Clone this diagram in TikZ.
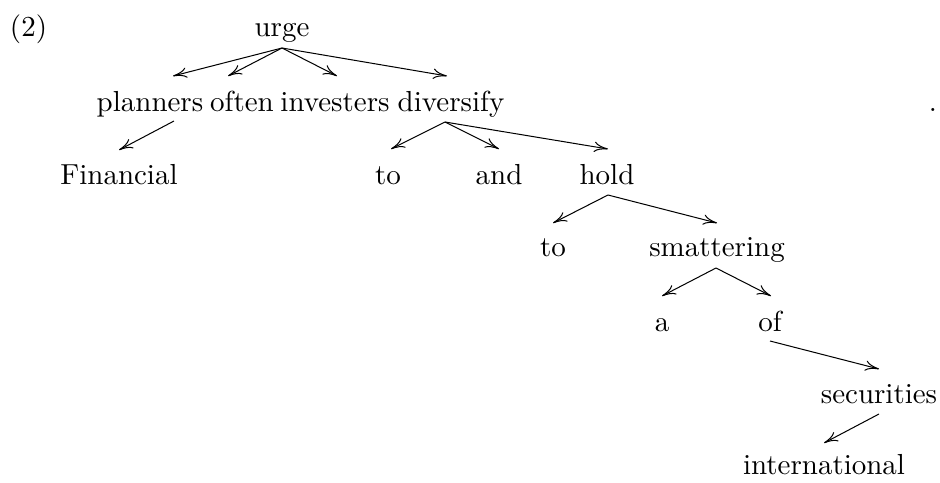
\documentclass[tikz,border=0pt]{standalone}
\usetikzlibrary{arrows.meta}
\begin{document}
\begin{tikzpicture}[x=0.345pt,y=-0.345pt,
  word/.style={anchor=base,inner sep=0pt,outer sep=0pt,font=\fontsize{10}{12}\selectfont},
  dep/.style={-{To[length=4.8pt,width=3.6pt]},line width=0.35pt}]
\useasboundingbox (0,0) rectangle (940,482);
\node[word,anchor=base west] (num) at (10,36) {(2)};
\node[word] (urge) at (282,36) {urge};
\node[word] (planners) at (150,111) {planners};
\node[word] (often) at (242,111) {often};
\node[word] (investers) at (335,111) {investers};
\node[word] (diversify) at (451,111) {diversify};
\node[word] (dot) at (933,111) {.};
\node[word] (financial) at (119,184) {Financial};
\node[word] (to1) at (388,184) {to};
\node[word] (and) at (499,184) {and};
\node[word] (hold) at (607,184) {hold};
\node[word] (to2) at (553,256) {to};
\node[word] (smattering) at (717,256) {smattering};
\node[word] (a) at (662,331) {a};
\node[word] (of) at (770,331) {of};
\node[word] (securities) at (879,403) {securities};
\node[word] (international) at (824,474) {international};

\draw[dep] ([shift={(0,12)}]urge.base) -- ([shift={(23,-35)}]planners.base);
\draw[dep] ([shift={(0,12)}]urge.base) -- ([shift={(-14,-35)}]often.base);
\draw[dep] ([shift={(0,12)}]urge.base) -- ([shift={(2,-35)}]investers.base);
\draw[dep] ([shift={(0,12)}]urge.base) -- ([shift={(-4,-35)}]diversify.base);
\draw[dep] ([shift={(24,10)}]planners.base) -- ([shift={(0,-34)}]financial.base);
\draw[dep] ([shift={(-6,11)}]diversify.base) -- ([shift={(3,-35)}]to1.base);
\draw[dep] ([shift={(-6,11)}]diversify.base) -- ([shift={(0,-35)}]and.base);
\draw[dep] ([shift={(-6,11)}]diversify.base) -- ([shift={(1,-35)}]hold.base);
\draw[dep] ([shift={(1,11)}]hold.base) -- ([shift={(0,-33)}]to2.base);
\draw[dep] ([shift={(1,11)}]hold.base) -- ([shift={(0,-33)}]smattering.base);
\draw[dep] ([shift={(-1,12)}]smattering.base) -- ([shift={(0,-35)}]a.base);
\draw[dep] ([shift={(-1,12)}]smattering.base) -- ([shift={(1,-35)}]of.base);
\draw[dep] ([shift={(0,10)}]of.base) -- ([shift={(0,-34)}]securities.base);
\draw[dep] ([shift={(0,11)}]securities.base) -- ([shift={(0,-31)}]international.base);
\end{tikzpicture}
\end{document}
